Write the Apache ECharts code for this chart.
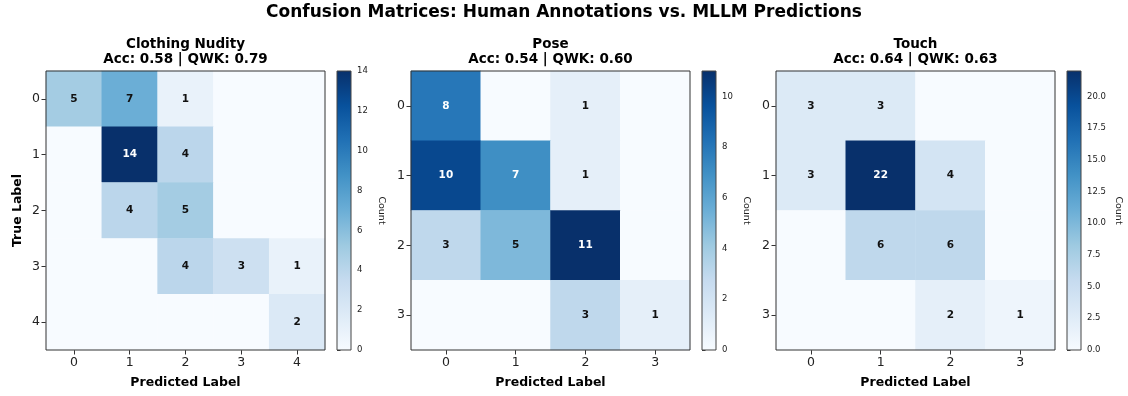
<!DOCTYPE html>
<html>
<head>
<meta charset="utf-8">
<script src="https://cdn.jsdelivr.net/npm/echarts@6/dist/echarts.min.js"></script>
<style>
  html, body { margin: 0; padding: 0; background: #fff; }
  #chart { width: 1128px; height: 396px; }
</style>
</head>
<body>
<div id="chart"></div>
<script>
// Confusion matrices: rows = true label, columns = predicted label
const nudityLabels = ['0', '1', '2', '3', '4'];
const nudityMatrix = [
  [5, 7, 1, 0, 0],
  [0, 14, 4, 0, 0],
  [0, 4, 5, 0, 0],
  [0, 0, 4, 3, 1],
  [0, 0, 0, 0, 2]
];
const nudityTicks = [0, 2, 4, 6, 8, 10, 12, 14];

const poseLabels = ['0', '1', '2', '3'];
const poseMatrix = [
  [8, 0, 1, 0],
  [10, 7, 1, 0],
  [3, 5, 11, 0],
  [0, 0, 3, 1]
];
const poseTicks = [0, 2, 4, 6, 8, 10];

const touchLabels = ['0', '1', '2', '3'];
const touchMatrix = [
  [3, 3, 0, 0],
  [3, 22, 4, 0],
  [0, 6, 6, 0],
  [0, 0, 2, 1]
];
const touchTicks = [0, 2.5, 5, 7.5, 10, 12.5, 15, 17.5, 20];

const panelTitles = ['Clothing Nudity', 'Pose', 'Touch'];
const panelScores = ['Acc: 0.58 | QWK: 0.79', 'Acc: 0.54 | QWK: 0.60', 'Acc: 0.64 | QWK: 0.63'];

// matplotlib "Blues" colormap
const BLUES = ['#f7fbff', '#deebf7', '#c6dbef', '#9ecae1', '#6baed6', '#4292c6', '#2171b5', '#08519c', '#08306b'];

const FONT = 'DejaVu Sans';
const panels = [
  { labels: nudityLabels, matrix: nudityMatrix, ticks: nudityTicks, left: 46, cbLeft: 337, countGap: 25, decimals: 0, yName: 'True Label' },
  { labels: poseLabels, matrix: poseMatrix, ticks: poseTicks, left: 411, cbLeft: 702, countGap: 25, decimals: 0, yName: '' },
  { labels: touchLabels, matrix: touchMatrix, ticks: touchTicks, left: 776, cbLeft: 1067, countGap: 32, decimals: 1, yName: '' }
];
const TOP = 71, SIZE = 279, CB_W = 14;

const grid = [], xAxis = [], yAxis = [], series = [], visualMap = [];
const title = [{
  text: 'Confusion Matrices: Human Annotations vs. MLLM Predictions',
  left: 'center', top: 3, padding: 0,
  textStyle: { fontFamily: FONT, fontSize: 17, fontWeight: 'bold', color: '#000', lineHeight: 20 }
}];

panels.forEach((p, i) => {
  const vmax = Math.max(...p.matrix.flat());
  const half = vmax / 2;

  title.push({
    text: panelTitles[i] + '\n' + panelScores[i],
    left: p.left + SIZE / 2, top: 37, textAlign: 'center', padding: 0,
    textStyle: { fontFamily: FONT, fontSize: 13.5, fontWeight: 'bold', color: '#000', lineHeight: 15 }
  });

  // heatmap grid
  grid.push({ left: p.left, top: TOP, width: SIZE, height: SIZE, show: true, borderColor: '#333', borderWidth: 1, backgroundColor: 'transparent', z: 5 });
  const gHeat = grid.length - 1;
  xAxis.push({
    type: 'category', gridIndex: gHeat, data: p.labels, position: 'bottom',
    name: 'Predicted Label', nameLocation: 'middle', nameGap: 26,
    nameTextStyle: { fontFamily: FONT, fontSize: 12.5, fontWeight: 'bold', color: '#000' },
    axisLine: { show: false },
    axisTick: { show: true, alignWithLabel: true, length: 4.5, lineStyle: { color: '#333' } },
    axisLabel: { fontFamily: FONT, fontSize: 12.5, color: '#222', margin: 6 },
    splitLine: { show: false }, splitArea: { show: false }
  });
  yAxis.push({
    type: 'category', gridIndex: gHeat, data: p.labels, inverse: true, position: 'left',
    name: p.yName, nameLocation: 'middle', nameGap: 22, nameRotate: 90,
    nameTextStyle: { fontFamily: FONT, fontSize: 12.5, fontWeight: 'bold', color: '#000' },
    axisLine: { show: false },
    axisTick: { show: true, alignWithLabel: true, length: 4.5, lineStyle: { color: '#333' } },
    axisLabel: { fontFamily: FONT, fontSize: 12.5, color: '#222', margin: 6 },
    splitLine: { show: false }, splitArea: { show: false }
  });

  const cells = [];
  p.matrix.forEach((row, r) => row.forEach((v, c) => {
    cells.push({ value: [c, r, v], label: { color: v > half ? '#fff' : '#111' } });
  }));
  series.push({
    type: 'heatmap', xAxisIndex: xAxis.length - 1, yAxisIndex: yAxis.length - 1,
    data: cells, z: 2,
    label: {
      show: true, fontFamily: FONT, fontSize: 10.5, fontWeight: 'bold',
      formatter: (d) => (d.value[2] ? String(d.value[2]) : '')
    },
    emphasis: { disabled: true }
  });
  visualMap.push({
    type: 'continuous', show: false, seriesIndex: series.length - 1, dimension: 2,
    min: 0, max: vmax, inRange: { color: BLUES }
  });

  // colorbar
  grid.push({ left: p.cbLeft, top: TOP, width: CB_W, height: SIZE });
  const gCb = grid.length - 1;
  xAxis.push({ type: 'value', gridIndex: gCb, min: 0, max: 1, show: false });
  yAxis.push({
    type: 'value', gridIndex: gCb, min: 0, max: vmax, position: 'right',
    name: 'Count', nameLocation: 'middle', nameGap: p.countGap, nameRotate: -90,
    nameTextStyle: { fontFamily: FONT, fontSize: 9.5, color: '#222' },
    axisLine: { show: false },
    axisTick: { show: true, length: 3.5, customValues: p.ticks, lineStyle: { color: '#333' } },
    axisLabel: {
      fontFamily: FONT, fontSize: 8.5, color: '#222', margin: 6, customValues: p.ticks,
      formatter: (v) => Number(v).toFixed(p.decimals)
    },
    splitLine: { show: false }
  });
  const stops = BLUES.map((c, k) => ({ offset: k / (BLUES.length - 1), color: c }));
  series.push({
    type: 'custom', xAxisIndex: xAxis.length - 1, yAxisIndex: yAxis.length - 1,
    data: [[0, vmax]], silent: true,
    renderItem: (params, api) => {
      const lo = api.coord([0, 0]);
      const hi = api.coord([1, api.value(1)]);
      return {
        type: 'rect',
        shape: { x: lo[0], y: hi[1], width: hi[0] - lo[0], height: lo[1] - hi[1] },
        style: {
          fill: new echarts.graphic.LinearGradient(0, 1, 0, 0, stops),
          stroke: '#444', lineWidth: 1
        }
      };
    }
  });
});

const chart = echarts.init(document.getElementById('chart'), null, { renderer: 'canvas' });
chart.setOption({
  animation: false,
  backgroundColor: '#fff',
  title, grid, xAxis, yAxis, series, visualMap
});
</script>
</body>
</html>
